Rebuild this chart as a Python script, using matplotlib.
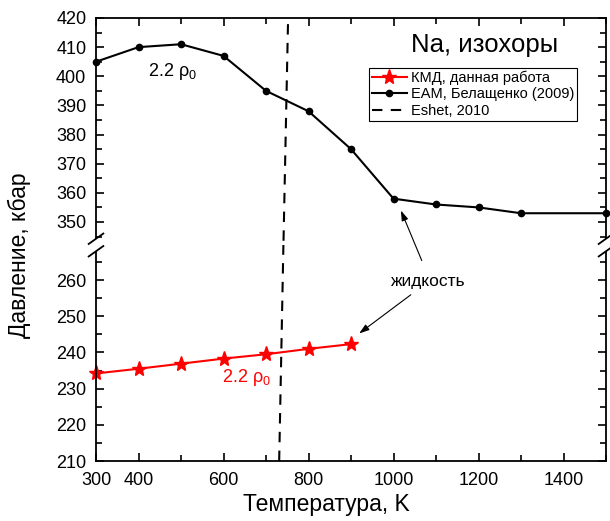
import matplotlib
matplotlib.use("Agg")
import matplotlib.pyplot as plt
from matplotlib.ticker import MultipleLocator, FixedLocator

plt.rcParams['font.family'] = ['Liberation Sans', 'DejaVu Sans']
plt.rcParams['mathtext.fontset'] = 'custom'
plt.rcParams['mathtext.rm'] = 'Liberation Sans'
plt.rcParams['mathtext.it'] = 'Liberation Sans'

# КМД, данная работа
T_kmd = [300, 400, 500, 600, 700, 800, 900]
P_kmd = [234.2, 235.5, 236.9, 238.3, 239.5, 241.0, 242.3]

# EAM, Белащенко (2009)
T_eam = [300, 400, 500, 600, 700, 800, 900, 1000, 1100, 1200, 1300, 1500]
P_eam = [405, 410, 411, 407, 395, 388, 375, 358, 356, 355, 353, 353]

# Eshet, 2010 (melting line)
T_eshet = [731, 741, 741, 752]
P_eshet = [210, 270, 342, 420]

x_major = [300, 400, 600, 800, 1000, 1200, 1400]
x_minor = [500, 700, 900, 1100, 1300, 1500]

fig = plt.figure(figsize=(6.10, 5.21), dpi=100)
left, right = 96 / 610, 606 / 610
top, brk, bot = 1 - 18 / 521, 1 - 245 / 521, 1 - 461 / 521
ax_top = fig.add_axes([left, brk, right - left, top - brk])
ax_bot = fig.add_axes([left, bot, right - left, brk - bot])
ax_top.patch.set_visible(False)
ax_bot.patch.set_visible(False)

for ax in (ax_top, ax_bot):
    l1, = ax.plot(T_kmd, P_kmd, color='red', lw=1.5, marker='*', ms=11,
                  label='КМД, данная работа')
    l2, = ax.plot(T_eam, P_eam, color='black', lw=1.5, marker='o', ms=4.5,
                  label='EAM, Белащенко (2009)')
    l3, = ax.plot(T_eshet, P_eshet, color='black', lw=1.5, ls=(0, (5, 4)),
                  label='Eshet, 2010')
    ax.set_xlim(300, 1500)
    ax.xaxis.set_major_locator(FixedLocator(x_major))
    ax.xaxis.set_minor_locator(FixedLocator(x_minor))
    ax.yaxis.set_major_locator(MultipleLocator(10))
    ax.yaxis.set_minor_locator(MultipleLocator(5))
    ax.tick_params(which='both', direction='in', top=True, right=True,
                   width=1.2, labelsize=13)
    ax.tick_params(axis='x', pad=8)
    ax.tick_params(axis='y', pad=7)
    ax.tick_params(which='major', length=6)
    ax.tick_params(which='minor', length=4)
    for s in ax.spines.values():
        s.set_linewidth(1.3)

# markers at the frame edges are not cut
for ax in (ax_top, ax_bot):
    for ln in ax.lines[:2]:
        ln.set_clip_on(False)

ax_top.set_ylim(342.1, 420)
ax_bot.set_ylim(210, 269.7)
ax_top.spines['bottom'].set_visible(False)
ax_bot.spines['top'].set_visible(False)
ax_top.tick_params(which='both', bottom=False, labelbottom=False)
ax_bot.tick_params(which='both', top=False)
ax_top.set_yticks(range(350, 421, 10))
ax_bot.set_yticks(range(210, 261, 10))

# break marks
for xa in (0, 1):
    xf = left + (right - left) * xa
    fig.add_artist(plt.Line2D([xf, xf], [brk - 0.008, brk + 0.008],
                              color='white', lw=3))
    for dy in (-0.012, 0.012):
        fig.add_artist(plt.Line2D([xf - 0.012, xf + 0.012],
                                  [brk + dy - 0.01, brk + dy + 0.01],
                                  color='black', lw=1.3))

fig.text(326 / 610, 1 - 505 / 521, 'Температура, K', fontsize=16.5,
         ha='center', va='center')
fig.text(19 / 610, 1 - 255 / 521, 'Давление, кбар', fontsize=16.5,
         rotation=90, ha='center', va='center')

ax_top.text(1041, 410.7, 'Na, изохоры', fontsize=18.5, ha='left', va='center')
ax_top.text(422, 401.5, '2.2 ρ$_0$', fontsize=13, ha='left', va='center')
ax_bot.text(596, 233.0, '2.2 ρ$_0$', fontsize=13, ha='left', va='center',
            color='red')
ax_bot.text(1081, 259.5, 'жидкость', fontsize=12.5, ha='center', va='center')

ax_bot.annotate('', xy=(1015, 354.8), xycoords=ax_top.transData,
                xytext=(1069, 264.7), textcoords=ax_bot.transData,
                arrowprops=dict(arrowstyle='-|>,head_length=0.6,head_width=0.2',
                                color='black', lw=0.8), annotation_clip=False)
ax_bot.annotate('', xy=(914, 244.8), xytext=(1046, 256.4),
                arrowprops=dict(arrowstyle='-|>,head_length=0.6,head_width=0.2',
                                color='black', lw=0.8), annotation_clip=False)

leg = ax_top.legend(handles=[l1, l2, l3], loc='upper left',
                    bbox_to_anchor=(0.535, 0.78), fontsize=10.5, frameon=True,
                    fancybox=False, edgecolor='black', framealpha=1,
                    borderpad=0.2, labelspacing=0.15, handlelength=2.4,
                    handletextpad=0.3, borderaxespad=0)
leg.get_frame().set_linewidth(0.8)

fig.savefig('out.png', dpi=100)
